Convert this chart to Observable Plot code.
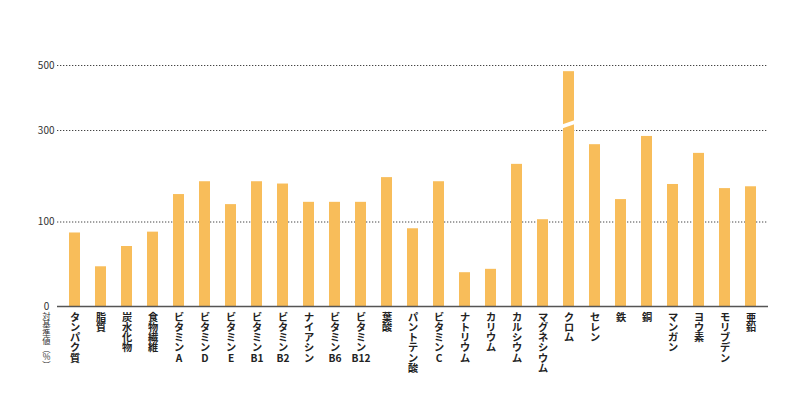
<!DOCTYPE html>
<html><head><meta charset="utf-8">
<script src="https://cdn.jsdelivr.net/npm/d3@7"></script>
<script src="https://cdn.jsdelivr.net/npm/@observablehq/plot@0.6"></script>
<style>
body{margin:0;background:#fff;}
#chart svg{display:block;}
</style></head>
<body><div id="chart"></div>
<script>
const categories = ["タンパク質","脂質","炭水化物","食物繊維","ビタミンA","ビタミンD","ビタミンE","ビタミンB1","ビタミンB2","ナイアシン","ビタミンB6","ビタミンB12","葉酸","パントテン酸","ビタミンC","ナトリウム","カリウム","カルシウム","マグネシウム","クロム","セレン","鉄","銅","マンガン","ヨウ素","モリブデン","亜鉛"];
const values = [87,47,71,88,160,188,138,188,183,143,143,143,197,92,188,40,44,226,105,481,269,149,287,182,250,173,177];
const yTicks = [0,100,300,500];
const yLabel = "対基準値(%)";
const brokenCategory = "クロム";
const breakValue = 318;

// piecewise (broken) value axis: relative lengths of each tick segment
const segmentLengths = [0, 84.5, 176, 241];
const warp = d3.scaleLinear(yTicks, segmentLengths);

function vertical(s){
  return s.replace("(", "︵").replace(")", "︶").match(/[A-Za-z0-9]+|./gu).join("\n");
}
const data = categories.map((c,i)=>({name:c, value:values[i], label:vertical(c)}));

const chart = Plot.plot({
  width: 800, height: 406,
  marginLeft: 57, marginRight: 32, marginTop: 65, marginBottom: 100,
  style: {fontFamily: "'Noto Sans CJK JP', 'Noto Sans', sans-serif", fontSize: "10px", color: "#222", background: "#fff"},
  x: {domain: categories, paddingInner: 0.56, paddingOuter: 0.2535, axis: null},
  y: {type: "linear", transform: v => warp(v), domain: [0, 241], axis: null},
  marks: [
    Plot.ruleY(yTicks.filter(t=>t>0), {stroke:"#444", strokeWidth:1, strokeDasharray:"1.3,1.7"}),
    Plot.barY(data, {x:"name", y:"value", fill:"#f8bd5a"}),
    Plot.ruleY([0], {stroke:"#555", strokeWidth:1.5}),
    Plot.text(yTicks.filter(t=>t>0), {y:d=>d, text:d=>String(d), frameAnchor:"left", textAnchor:"end", dx:-3, fontSize:10, fill:"#333"}),
    Plot.text([0], {y:d=>d, text:d=>String(d), frameAnchor:"left", textAnchor:"middle", dx:-11, fontSize:10, fill:"#333"}),
    Plot.text(data, {x:"name", text:"label", frameAnchor:"bottom", lineAnchor:"top", dy:7, fontSize:10.2, fontWeight:"bold", lineHeight:1.0, fill:"#222"}),
    Plot.text([vertical(yLabel)], {text:d=>d, frameAnchor:"bottom-left", textAnchor:"middle", lineAnchor:"top", dx:-11, dy:7, fontSize:8.3, lineHeight:0.98, fill:"#333"})
  ]
});
document.getElementById("chart").appendChild(chart);

// axis-break mark on the tallest bar
(function(){
  const idx = categories.indexOf(brokenCategory);
  const rects = chart.querySelectorAll('g[aria-label="bar"] rect');
  const r = rects[idx];
  if (!r) return;
  const ys = chart.scale("y");
  const pos = d3.scaleLinear(ys.domain, ys.range);
  const yb = pos(warp(breakValue));
  const x0 = +r.getAttribute("x") - 1, x1 = +r.getAttribute("x") + +r.getAttribute("width") + 1;
  const s = 4.5, t = 4;
  const pts = [[x0, yb + s/2 - t/2],[x1, yb - s/2 - t/2],[x1, yb - s/2 + t/2],[x0, yb + s/2 + t/2]];
  d3.select(r.parentNode).append("polygon").attr("points", pts.map(p=>p.join(",")).join(" ")).attr("fill","#fff");
})();
</script></body></html>
